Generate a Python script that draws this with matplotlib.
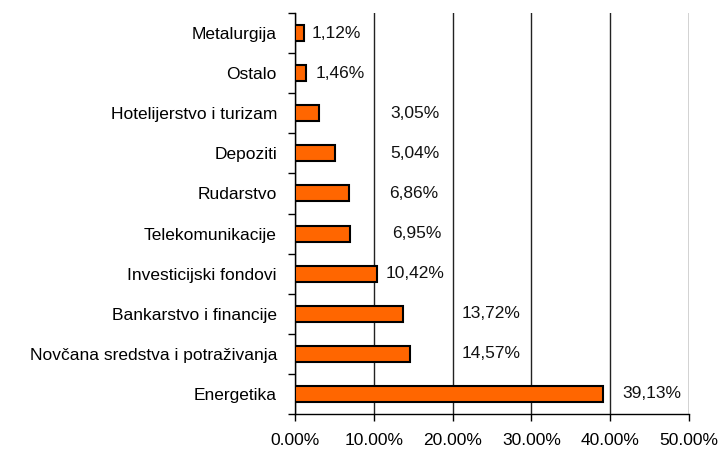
import matplotlib
matplotlib.use("Agg")
import matplotlib.pyplot as plt
from matplotlib.ticker import FixedLocator

categories = ["Metalurgija", "Ostalo", "Hotelijerstvo i turizam", "Depoziti",
              "Rudarstvo", "Telekomunikacije", "Investicijski fondovi",
              "Bankarstvo i financije", "Novčana sredstva i potraživanja", "Energetika"]
values = [1.12, 1.46, 3.05, 5.04, 6.86, 6.95, 10.42, 13.72, 14.57, 39.13]
value_labels = ["1,12%", "1,46%", "3,05%", "5,04%", "6,86%", "6,95%",
                "10,42%", "13,72%", "14,57%", "39,13%"]
x_ticks = [0, 10, 20, 30, 40, 50]
x_tick_labels = ["0.00%", "10.00%", "20.00%", "30.00%", "40.00%", "50.00%"]
# label centre positions (as placed in the original)
label_x = [5.2, 5.8, 15.2, 15.2, 15.1, 15.5, 15.2, 24.9, 24.9, 45.3]

plt.rcParams['font.family'] = ['Liberation Sans', 'DejaVu Sans']
fs = 12.5

fig = plt.figure(figsize=(7.23, 4.5), dpi=100)
ax = fig.add_axes([0.408, 0.08, 0.545, 0.891])

n = len(categories)
ypos = list(range(n))
ax.barh(ypos, values, height=0.4, color="#FF6600", edgecolor="black", linewidth=1.5, zorder=3)

for y, lx, t in zip(ypos, label_x, value_labels):
    ax.text(lx, y, t, ha="center", va="center", fontsize=fs, color="#111111")

ax.set_xlim(0, 50)
ax.set_ylim(n - 0.5, -0.5)
ax.set_xticks(x_ticks)
ax.set_xticklabels(x_tick_labels, fontsize=fs)
ax.set_yticks(ypos)
ax.set_yticklabels(categories, fontsize=fs)
ax.tick_params(axis="y", length=0, pad=13)
ax.yaxis.set_minor_locator(FixedLocator([i - 0.5 for i in range(n + 1)]))
ax.tick_params(axis="y", which="minor", length=5, width=1, direction="out")
ax.tick_params(axis="x", length=5, width=1, direction="out", pad=9)

ax.grid(axis="x", color="#222222", linewidth=1, zorder=0)
for s in ["top", "right"]:
    ax.spines[s].set_visible(False)
ax.spines["left"].set_linewidth(1)
ax.spines["bottom"].set_linewidth(1)

fig.savefig("out.png", dpi=100)
